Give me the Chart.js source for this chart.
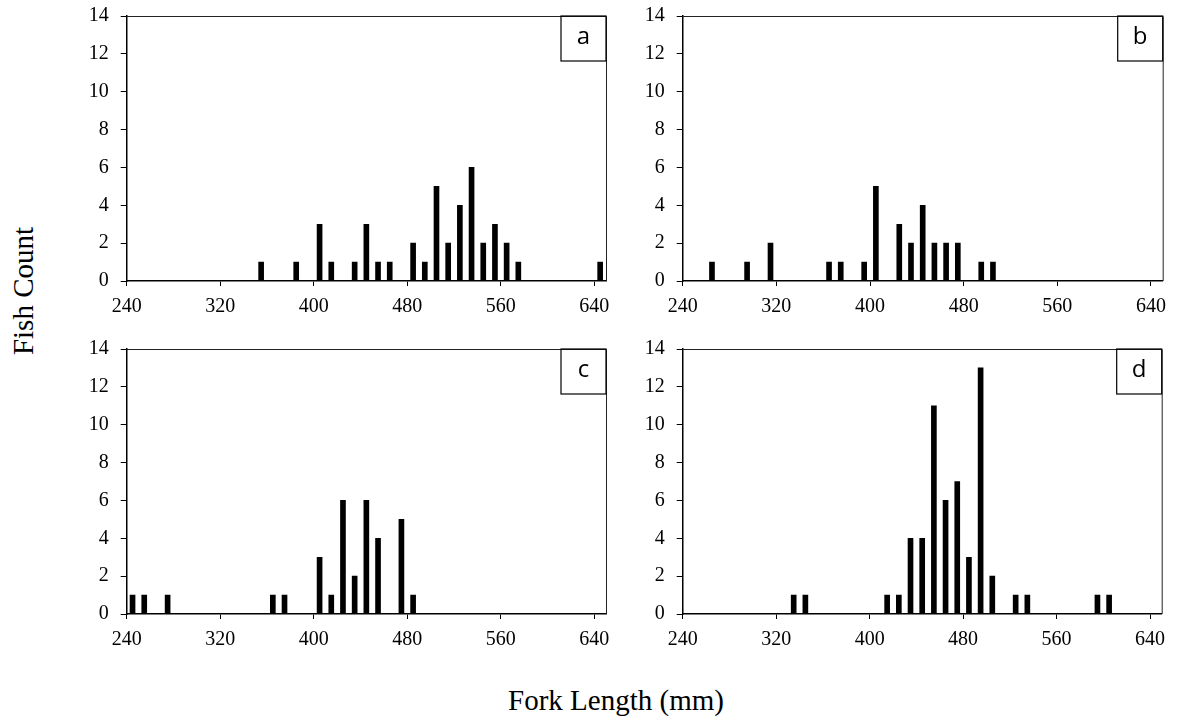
<!DOCTYPE html>
<html>
<head>
<meta charset="utf-8">
<script src="https://cdn.jsdelivr.net/npm/chart.js@4.4.1/dist/chart.umd.min.js"></script>
<style>
  body { margin: 0; width: 1181px; height: 721px; background: #fff; position: relative; overflow: hidden; font-family: "Liberation Serif", serif; }
  .panel { position: absolute; width: 580px; }
  .ytitle { position: absolute; left: 23px; top: 291px; transform: translate(-50%, -50%) rotate(-90deg); font-size: 29px; white-space: nowrap; }
  .xtitle { position: absolute; left: 616px; top: 700px; transform: translate(-50%, -50%); font-size: 29px; white-space: nowrap; }
</style>
</head>
<body>
<div class="panel" style="left:40px;top:-8px;height:328px"><canvas id="chartA"></canvas></div>
<div class="panel" style="left:600px;top:-8px;height:328px"><canvas id="chartB"></canvas></div>
<div class="panel" style="left:40px;top:325px;height:325px"><canvas id="chartC"></canvas></div>
<div class="panel" style="left:600px;top:325px;height:325px"><canvas id="chartD"></canvas></div>
<div class="ytitle">Fish Count</div>
<div class="xtitle">Fork Length (mm)</div>
<script>
'use strict'

// bin centres (mm) and counts per panel
var xTickValues = [240, 320, 400, 480, 560, 640];
var yTickValues = [0, 2, 4, 6, 8, 10, 12, 14];

var lengthsA = [355, 385, 405, 415, 435, 445, 455, 465, 485, 495, 505, 515, 525, 535, 545, 555, 565, 575, 645];
var countsA  = [1,   1,   3,   1,   1,   3,   1,   1,   2,   1,   5,   2,   4,   6,   2,   3,   2,   1,   1];

var lengthsB = [265, 295, 315, 365, 375, 395, 405, 425, 435, 445, 455, 465, 475, 495, 505];
var countsB  = [1,   1,   2,   1,   1,   1,   5,   3,   2,   4,   2,   2,   2,   1,   1];

var lengthsC = [245, 255, 275, 365, 375, 405, 415, 425, 435, 445, 455, 475, 485];
var countsC  = [1,   1,   1,   1,   1,   3,   1,   6,   2,   6,   4,   5,   1];

var lengthsD = [335, 345, 415, 425, 435, 445, 455, 465, 475, 485, 495, 505, 525, 535, 595, 605];
var countsD  = [1,   1,   1,   1,   4,   4,   11,  6,   7,   3,   13,  2,   1,   1,   1,   1];

var framePlugin = {
    id: 'frame',
    afterDraw: function (chart, args, opts) {
        var ctx = chart.ctx;
        var a = chart.chartArea;
        ctx.save();
        ctx.strokeStyle = '#222';
        ctx.lineWidth = 1;
        ctx.beginPath();
        ctx.moveTo(a.left, a.top + 0.5);
        ctx.lineTo(a.right + 0.5, a.top + 0.5);
        ctx.lineTo(a.right + 0.5, a.bottom);
        ctx.stroke();
        // panel letter box
        ctx.strokeStyle = '#000';
        ctx.lineWidth = 1.2;
        ctx.strokeRect(a.right - 45, a.top, 45, 45);
        ctx.fillStyle = '#000';
        ctx.font = '24px "Open Sans", sans-serif';
        ctx.textAlign = 'center';
        ctx.textBaseline = 'middle';
        ctx.fillText(opts.letter, a.right - 22.5, a.top + 21);
        ctx.restore();
    }
};

function makeChart(id, lengths, counts, letter, lay) {
    var tickFont = { family: 'Liberation Serif', size: 20 };
    return new Chart(document.getElementById(id), {
        type: 'bar',
        data: {
            datasets: [{
                data: lengths.map(function (x, i) { return { x: x, y: counts[i] }; }),
                backgroundColor: '#000',
                borderWidth: 0,
                barThickness: 5
            }]
        },
        options: {
            responsive: true,
            maintainAspectRatio: false,
            animation: false,
            layout: { padding: { top: 0, right: lay.right, bottom: 0, left: 0 } },
            plugins: {
                legend: { display: false },
                tooltip: { enabled: false },
                frame: { letter: letter }
            },
            scales: {
                x: {
                    type: 'linear',
                    min: 240,
                    max: 650,
                    offset: false,
                    afterBuildTicks: function (s) { s.ticks = xTickValues.map(function (v) { return { value: v }; }); },
                    afterFit: function (s) { s.height = lay.xh; },
                    grid: { display: true, drawOnChartArea: false, drawTicks: true, tickLength: 5, color: '#000', offset: false },
                    border: { display: true, color: '#000', width: 1.5 },
                    ticks: { font: tickFont, color: '#000', padding: 9, autoSkip: false, maxRotation: 0 }
                },
                y: {
                    min: 0,
                    max: 14,
                    afterBuildTicks: function (s) { s.ticks = yTickValues.map(function (v) { return { value: v }; }); },
                    afterFit: function (s) { s.width = lay.yw; },
                    grid: { display: true, drawOnChartArea: false, drawTicks: true, tickLength: 6, color: '#000' },
                    border: { display: true, color: '#000', width: 1.5 },
                    ticks: { font: tickFont, color: '#000', padding: 12, autoSkip: false }
                }
            }
        },
        plugins: [framePlugin]
    });
}

makeChart('chartA', lengthsA, countsA, 'a', { right: 14, xh: 39, yw: 86.7 });
makeChart('chartB', lengthsB, countsB, 'b', { right: 17.3, xh: 39, yw: 82.7 });
makeChart('chartC', lengthsC, countsC, 'c', { right: 14, xh: 36, yw: 86.7 });
makeChart('chartD', lengthsD, countsD, 'd', { right: 18.3, xh: 36, yw: 82.7 });
</script>
</body>
</html>
